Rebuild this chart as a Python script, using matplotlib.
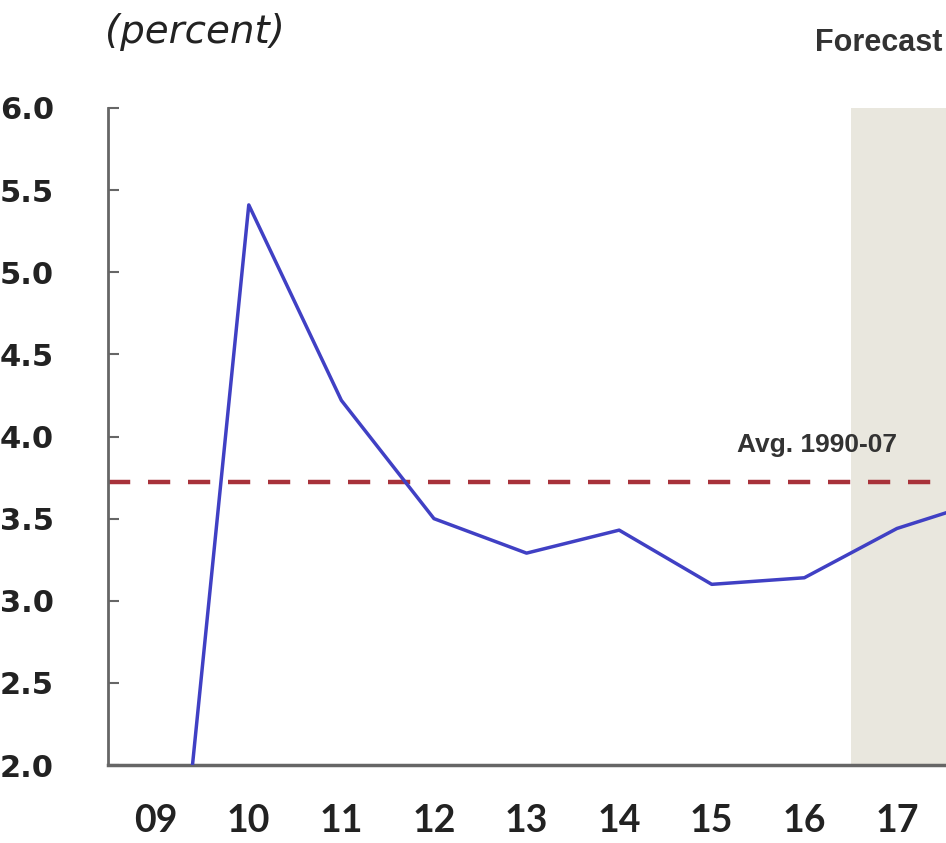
import matplotlib.pyplot as plt

# annual values, 2009-2018 (18 sits just past the right edge)
years = [9, 10, 11, 12, 13, 14, 15, 16, 17, 18]
values = [-0.2, 5.41, 4.22, 3.50, 3.29, 3.43, 3.10, 3.14, 3.44, 3.62]
year_labels = ['09', '10', '11', '12', '13', '14', '15', '16', '17']
avg_1990_07 = 3.72
forecast_start = 16.5

yticks = [2.0, 2.5, 3.0, 3.5, 4.0, 4.5, 5.0, 5.5, 6.0]

fig = plt.figure(figsize=(9.46, 8.43), dpi=100)
ax = fig.add_axes([0.1142, 0.0925, 0.8858, 0.7794])

ax.axvspan(forecast_start, 18, color='#e9e7de', lw=0, zorder=0)
ax.axhline(avg_1990_07, color='#a8323a', lw=3.2, dashes=(5, 4), zorder=2)
ax.plot(years, values, color='#4040c4', lw=2.5, zorder=3)

ax.set_xlim(8.48, 17.53)
ax.set_ylim(2.0, 6.0)

ax.set_yticks(yticks)
ax.set_yticklabels([f'{v:.1f}' for v in yticks], fontsize=22, fontweight='bold',
                   family='DejaVu Sans', color='#222222', ha='left')
ax.tick_params(axis='y', direction='in', length=8, width=1.5, color='#666666', pad=0)
for lab in ax.get_yticklabels():
    lab.set_x(-0.1142 / 0.8858)

ax.set_xticks(years[:-1])
ax.set_xticklabels(year_labels, fontsize=27, fontweight='bold', family='Lato', color='#222222')
ax.tick_params(axis='x', length=0, pad=28)

for side in ['top', 'right']:
    ax.spines[side].set_visible(False)
ax.spines['left'].set_color('#666666')
ax.spines['left'].set_linewidth(2)
ax.spines['bottom'].set_color('#666666')
ax.spines['bottom'].set_linewidth(2.5)

ax.text(15.27, 3.95, 'Avg. 1990-07', fontsize=19, fontweight='bold', family='Liberation Sans',
        color='#333333', ha='left', va='center')

fig.text(0.111, 0.962, '(percent)', fontsize=28, style='italic', family='DejaVu Sans',
         color='#222222', ha='left', va='center')
fig.text(0.862, 0.949, 'Forecast', fontsize=22, fontweight='bold', family='Liberation Sans',
         color='#333333', ha='left', va='center')

fig.savefig('out.png', dpi=100)
